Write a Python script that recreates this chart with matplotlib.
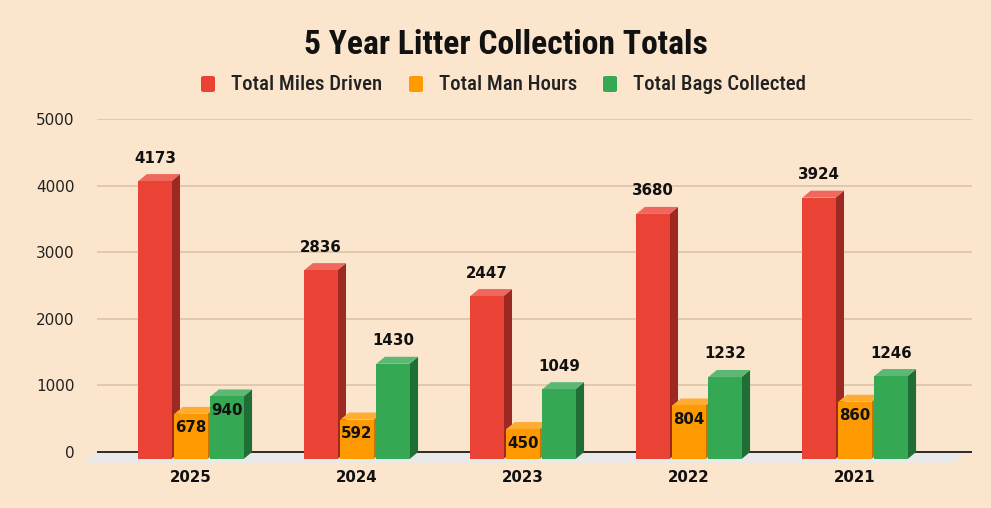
import numpy as np
import matplotlib.pyplot as plt
from matplotlib.patches import Polygon, FancyBboxPatch
from matplotlib import font_manager

years = ['2025', '2024', '2023', '2022', '2021']
miles = [4173, 2836, 2447, 3680, 3924]
hours = [678, 592, 450, 804, 860]
bags = [940, 1430, 1049, 1232, 1246]
series_names = ['Total Miles Driven', 'Total Man Hours', 'Total Bags Collected']

BG = '#fce5cd'
front_c = ['#ea4335', '#ff9900', '#34a853']
side_c = ['#9c2a22', '#c47600', '#1f6e35']
top_c = ['#ef675d', '#ffac33', '#5cb874']

W = 0.2      # bar width (category units)
OFF = 0.217  # spacing between bars in a group
DX = 0.051   # depth offset, x
DY = 105     # depth offset, y (value units)

# narrow font for title / legend, if a condensed face is around
names = {f.name for f in font_manager.fontManager.ttflist}
narrow = None
for cand in ['Liberation Sans Narrow', 'Arial Narrow', 'Roboto Condensed', 'DejaVu Sans Condensed']:
  if cand in names:
    narrow = cand
    break
if narrow:
  tfont = dict(family=narrow)
else:
  tfont = dict(family='DejaVu Sans', stretch='condensed')

fig = plt.figure(figsize=(9.91, 5.08), dpi=100, facecolor=BG)
ax = fig.add_axes([97/991, 28/508, 875/991, 361/508])
ax.set_facecolor(BG)
ax.set_xlim(-0.566, 4.705)
ax.set_ylim(-420, 5000)
for s in ax.spines.values():
  s.set_visible(False)

ax.set_yticks(range(0, 5001, 1000))
ax.yaxis.grid(True, color='#d9c1a6', linewidth=1.1, zorder=0)
ax.set_axisbelow(True)
ax.tick_params(axis='y', length=0, pad=16, labelsize=11, labelcolor='#222222')
ax.set_xticks([])

# floor
xl, xr = ax.get_xlim()
floor = Polygon([(xl, 0), (xr - 0.05, 0), (xr - 0.1, -160), (xl - 0.075, -160)],
                closed=True, facecolor='#e9e9e9', edgecolor='none', zorder=1, clip_on=False)
ax.add_patch(floor)
ax.plot([xl, xr], [0, 0], color='#2a2a2a', linewidth=1.4, zorder=2, solid_capstyle='butt')

series = [miles, hours, bags]
x = np.arange(len(years))
for k, vals in enumerate(series):
  for i, v in enumerate(vals):
    x0 = x[i] + (k - 1) * OFF - W / 2
    x1 = x0 + W
    z = 3 + k
    side = Polygon([(x1, -DY), (x1 + DX, 0), (x1 + DX, v), (x1, v - DY)], closed=True,
                   facecolor=side_c[k], edgecolor='none', zorder=z)
    top = Polygon([(x0, v - DY), (x1, v - DY), (x1 + DX, v), (x0 + DX, v)], closed=True,
                  facecolor=top_c[k], edgecolor='none', zorder=z)
    ax.add_patch(side)
    ax.add_patch(top)
    ax.bar(x0 + W / 2, v, width=W, bottom=-DY, color=front_c[k], zorder=z + 0.1)
    # small values get their label inside the bar
    if v < 1000:
      ax.text(x0 + W / 2, v - 315, str(v), ha='center', va='center', fontsize=10.8,
              fontweight='bold', color='#111111', zorder=10)
    else:
      ax.text(x0 + W / 2, v + 240, str(v), ha='center', va='center', fontsize=10.8,
              fontweight='bold', color='#111111', zorder=10)

for i, yr in enumerate(years):
  ax.text(x[i], -380, yr, ha='center', va='center', fontsize=10.8, fontweight='bold', color='#111111')

fig.text(506/991, 1 - 45/508, '5 Year Litter Collection Totals', ha='center', va='center',
         fontsize=24.2, fontweight='bold', color='#111111', **tfont)

# legend drawn by hand: swatch + label
leg_items = [(208, series_names[0]), (416, series_names[1]), (610, series_names[2])]
for (px, name), c in zip(leg_items, front_c):
  sw = FancyBboxPatch(((px - 7) / 991, 1 - 92 / 508), 14 / 991, 16 / 508,
                      boxstyle='round,pad=0,rounding_size=0.003', transform=fig.transFigure,
                      facecolor=c, edgecolor='none')
  fig.patches.append(sw)
  fig.text((px + 23) / 991, 1 - 84 / 508, name, ha='left', va='center', fontsize=15,
           fontweight='medium', color='#222222', **tfont)

plt.savefig('out.png', dpi=100, facecolor=BG)
